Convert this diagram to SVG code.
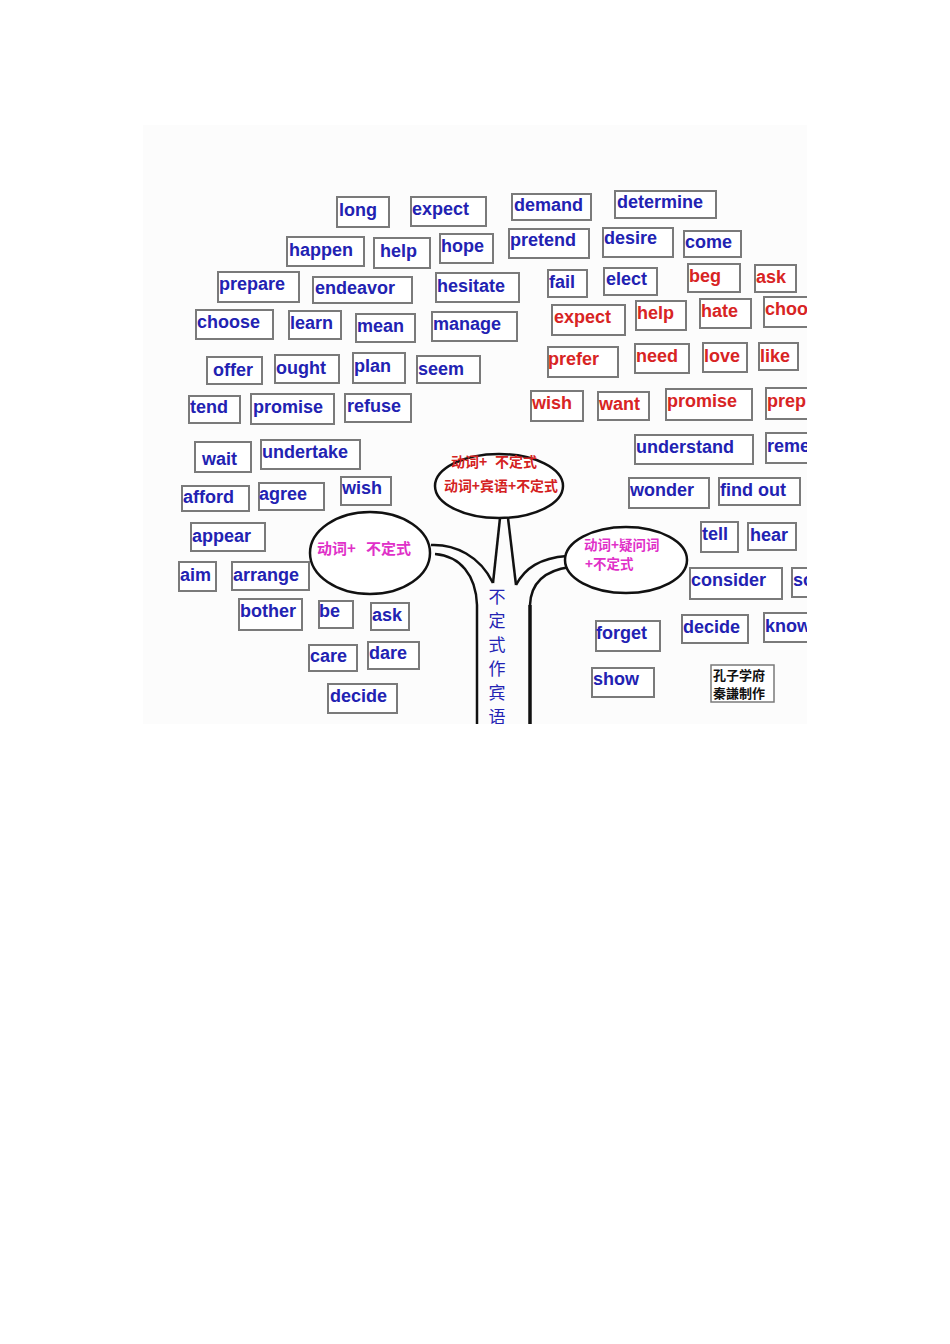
<svg xmlns="http://www.w3.org/2000/svg" width="950" height="1344" viewBox="0 0 950 1344">
<style>
.b rect{fill:#fff;stroke:#7a7a7a;stroke-width:2}
.b text{font-family:"Liberation Sans",Arial,sans-serif;font-weight:bold;font-size:18px}
.bl text{fill:#2222b2}
.rd text{fill:#d82424}
.ell{fill:#fff;stroke:#111;stroke-width:2.5}
.cn{font-family:"Noto Sans CJK SC",sans-serif;font-weight:bold}
.ln{fill:none;stroke:#111;stroke-width:2.5}
</style>
<defs>
<clipPath id="cp"><rect x="143" y="125" width="664" height="599"/></clipPath>
</defs>
<rect width="950" height="1344" fill="#fff"/>
<rect x="143" y="125" width="664" height="599" fill="#fcfcfc"/>
<g clip-path="url(#cp)">
<g id="connectors">
<path class="ln" d="M500,518 L493,583"/>
<path class="ln" d="M508,518 L516,585"/>
<path class="ln" d="M431,545 C455,544 480,556 493,583"/>
<path class="ln" d="M435,554 C460,556 476,575 477,605 L477,730"/>
<path class="ln" d="M516,585 C525,568 540,558 567,556"/>
<path class="ln" d="M570,567 C548,570 531,580 530,605"/>
<path class="ln" d="M530,605 L530,730" style="stroke-width:3.5"/>
</g>
<g id="e-top"><ellipse class="ell" cx="499" cy="486" rx="64" ry="32"/>
<text class="cn" x="451" y="467" font-size="14" fill="#d42222">动词+</text>
<text class="cn" x="495" y="467" font-size="14" fill="#d42222">不定式</text>
<text class="cn" x="444" y="491" font-size="14" fill="#d42222" textLength="114" lengthAdjust="spacingAndGlyphs">动词+宾语+不定式</text></g>
<g id="e-left"><ellipse class="ell" cx="370" cy="553" rx="60" ry="41"/>
<text class="cn" x="317" y="554" font-size="15" fill="#e030c8">动词+</text>
<text class="cn" x="366" y="554" font-size="15" fill="#e030c8">不定式</text></g>
<g id="e-right"><ellipse class="ell" cx="626" cy="560" rx="61" ry="33"/>
<text class="cn" x="584" y="550" font-size="13.5" fill="#e030c8">动词+疑问词</text>
<text class="cn" x="585" y="569" font-size="13.5" fill="#e030c8">+不定式</text></g>
<g id="trunk-label" font-family="'Noto Sans CJK SC',sans-serif" font-size="17" fill="#2323b4" text-anchor="middle">
<text x="497" y="603">不</text><text x="497" y="627">定</text><text x="497" y="651">式</text><text x="497" y="675">作</text><text x="497" y="699">宾</text><text x="497" y="723">语</text>
</g>
<g class="b bl">
<g id="n-long"><rect x="337" y="197" width="52" height="30"/><text x="339" y="216">long</text></g>
<g id="n-expect"><rect x="411" y="197" width="75" height="29"/><text x="412" y="215">expect</text></g>
<g id="n-demand"><rect x="512" y="194" width="79" height="26"/><text x="514" y="211">demand</text></g>
<g id="n-determine"><rect x="615" y="191" width="101" height="27"/><text x="617" y="208">determine</text></g>
<g id="n-happen"><rect x="287" y="237" width="77" height="29"/><text x="289" y="256">happen</text></g>
<g id="n-help"><rect x="374" y="238" width="56" height="30"/><text x="380" y="257">help</text></g>
<g id="n-hope"><rect x="440" y="234" width="53" height="29"/><text x="441" y="252">hope</text></g>
<g id="n-pretend"><rect x="509" y="229" width="80" height="29"/><text x="510" y="246">pretend</text></g>
<g id="n-desire"><rect x="603" y="228" width="70" height="29"/><text x="604" y="244">desire</text></g>
<g id="n-come"><rect x="684" y="231" width="57" height="26"/><text x="685" y="248">come</text></g>
<g id="n-prepare"><rect x="218" y="272" width="81" height="30"/><text x="219" y="290">prepare</text></g>
<g id="n-endeavor"><rect x="313" y="277" width="99" height="26"/><text x="315" y="294">endeavor</text></g>
<g id="n-hesitate"><rect x="436" y="273" width="83" height="29"/><text x="437" y="292">hesitate</text></g>
<g id="n-fail"><rect x="548" y="270" width="39" height="27"/><text x="549" y="288">fail</text></g>
<g id="n-elect"><rect x="604" y="268" width="53" height="27"/><text x="606" y="285">elect</text></g>
<g id="n-choose"><rect x="196" y="310" width="77" height="29"/><text x="197" y="328">choose</text></g>
<g id="n-learn"><rect x="289" y="311" width="52" height="28"/><text x="290" y="329">learn</text></g>
<g id="n-mean"><rect x="356" y="314" width="59" height="28"/><text x="357" y="332">mean</text></g>
<g id="n-manage"><rect x="432" y="312" width="85" height="29"/><text x="433" y="330">manage</text></g>
<g id="n-offer"><rect x="207" y="357" width="55" height="27"/><text x="213" y="376">offer</text></g>
<g id="n-ought"><rect x="275" y="355" width="64" height="28"/><text x="276" y="374">ought</text></g>
<g id="n-plan"><rect x="353" y="353" width="52" height="30"/><text x="354" y="372">plan</text></g>
<g id="n-seem"><rect x="417" y="356" width="63" height="27"/><text x="418" y="375">seem</text></g>
<g id="n-tend"><rect x="189" y="396" width="51" height="27"/><text x="190" y="413">tend</text></g>
<g id="n-promise"><rect x="251" y="394" width="83" height="30"/><text x="253" y="413">promise</text></g>
<g id="n-refuse"><rect x="345" y="394" width="66" height="28"/><text x="347" y="412">refuse</text></g>
<g id="n-wait"><rect x="195" y="442" width="56" height="30"/><text x="202" y="465">wait</text></g>
<g id="n-undertake"><rect x="261" y="440" width="99" height="29"/><text x="262" y="458">undertake</text></g>
<g id="n-afford"><rect x="182" y="486" width="67" height="25"/><text x="183" y="503">afford</text></g>
<g id="n-agree"><rect x="259" y="483" width="65" height="27"/><text x="259" y="500">agree</text></g>
<g id="n-wish"><rect x="341" y="477" width="50" height="28"/><text x="342" y="494">wish</text></g>
<g id="n-appear"><rect x="191" y="523" width="74" height="28"/><text x="192" y="542">appear</text></g>
<g id="n-aim"><rect x="179" y="562" width="37" height="29"/><text x="180" y="581">aim</text></g>
<g id="n-arrange"><rect x="232" y="562" width="77" height="28"/><text x="233" y="581">arrange</text></g>
<g id="n-bother"><rect x="239" y="599" width="63" height="31"/><text x="240" y="617">bother</text></g>
<g id="n-be"><rect x="319" y="601" width="34" height="27"/><text x="319" y="617">be</text></g>
<g id="n-ask"><rect x="371" y="603" width="38" height="27"/><text x="372" y="621">ask</text></g>
<g id="n-care"><rect x="309" y="645" width="48" height="26"/><text x="310" y="662">care</text></g>
<g id="n-dare"><rect x="368" y="642" width="51" height="27"/><text x="369" y="659">dare</text></g>
<g id="n-decide-l"><rect x="328" y="684" width="69" height="29"/><text x="330" y="702">decide</text></g>
<g id="n-understand"><rect x="635" y="435" width="118" height="29"/><text x="636" y="453">understand</text></g>
<g id="n-reme"><rect x="766" y="433" width="60" height="30"/><text x="767" y="452">reme</text></g>
<g id="n-wonder"><rect x="629" y="478" width="80" height="30"/><text x="630" y="496">wonder</text></g>
<g id="n-findout"><rect x="719" y="478" width="81" height="27"/><text x="720" y="496">find out</text></g>
<g id="n-tell"><rect x="701" y="522" width="37" height="30"/><text x="702" y="540">tell</text></g>
<g id="n-hear"><rect x="748" y="523" width="48" height="27"/><text x="750" y="541">hear</text></g>
<g id="n-consider"><rect x="690" y="568" width="92" height="31"/><text x="691" y="586">consider</text></g>
<g id="n-so"><rect x="792" y="568" width="40" height="29"/><text x="793" y="586">so</text></g>
<g id="n-forget"><rect x="596" y="621" width="64" height="30"/><text x="596" y="639">forget</text></g>
<g id="n-decide-r"><rect x="682" y="615" width="66" height="28"/><text x="683" y="633">decide</text></g>
<g id="n-know"><rect x="764" y="613" width="50" height="29"/><text x="765" y="632">know</text></g>
<g id="n-show"><rect x="592" y="668" width="62" height="29"/><text x="593" y="685">show</text></g>
</g>
<g class="b rd">
<g id="r-beg"><rect x="688" y="264" width="52" height="28"/><text x="689" y="282">beg</text></g>
<g id="r-ask"><rect x="755" y="265" width="41" height="27"/><text x="756" y="283">ask</text></g>
<g id="r-expect"><rect x="552" y="305" width="73" height="30"/><text x="554" y="323">expect</text></g>
<g id="r-help"><rect x="636" y="301" width="50" height="29"/><text x="637" y="319">help</text></g>
<g id="r-hate"><rect x="700" y="299" width="51" height="29"/><text x="701" y="317">hate</text></g>
<g id="r-choo"><rect x="764" y="297" width="60" height="30"/><text x="765" y="315">choo</text></g>
<g id="r-prefer"><rect x="548" y="347" width="70" height="30"/><text x="548" y="365">prefer</text></g>
<g id="r-need"><rect x="635" y="344" width="54" height="29"/><text x="636" y="362">need</text></g>
<g id="r-love"><rect x="703" y="343" width="44" height="29"/><text x="704" y="362">love</text></g>
<g id="r-like"><rect x="759" y="343" width="39" height="27"/><text x="760" y="362">like</text></g>
<g id="r-wish"><rect x="531" y="391" width="52" height="30"/><text x="532" y="409">wish</text></g>
<g id="r-want"><rect x="598" y="392" width="51" height="28"/><text x="599" y="410">want</text></g>
<g id="r-promise"><rect x="666" y="389" width="86" height="31"/><text x="667" y="407">promise</text></g>
<g id="r-prep"><rect x="766" y="388" width="60" height="31"/><text x="767" y="407">prep</text></g>
</g>
<g id="signature">
<rect x="711" y="665" width="63" height="37" fill="#fff" stroke="#7a7a7a" stroke-width="1.5"/>
<text x="713" y="680" font-family="'Noto Sans CJK SC',sans-serif" font-size="13" font-weight="bold" fill="#111">孔子学府</text>
<text x="713" y="698" font-family="'Noto Sans CJK SC',sans-serif" font-size="13" font-weight="bold" fill="#111">秦謙制作</text>
</g>
</g>
</svg>
